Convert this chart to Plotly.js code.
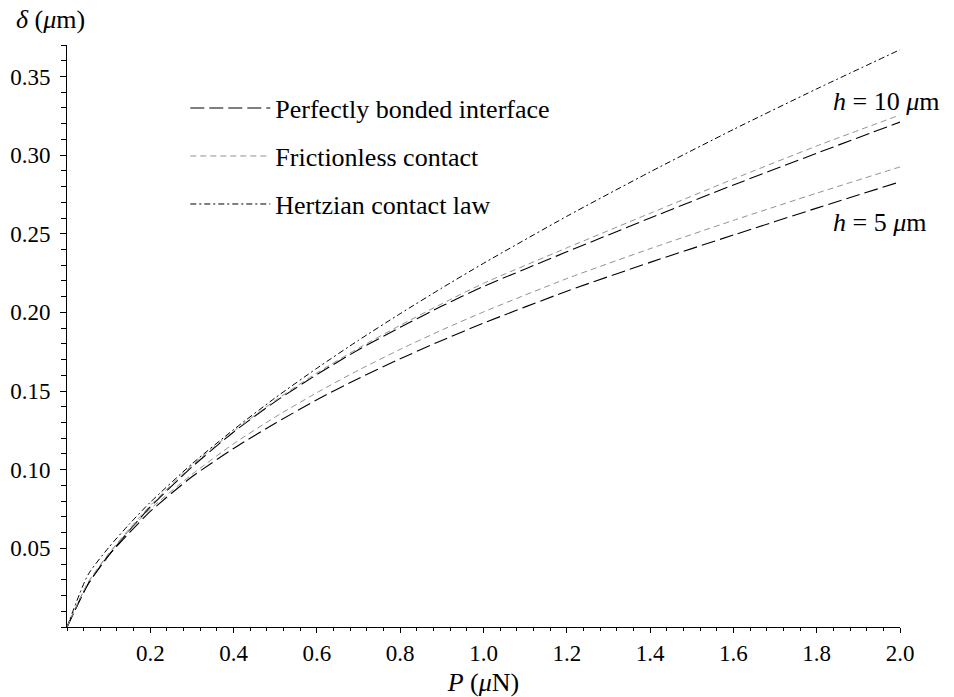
<!DOCTYPE html>
<html>
<head>
<meta charset="utf-8">
<script src="https://cdn.plot.ly/plotly-3.0.1.min.js"></script>
<style>html,body{margin:0;padding:0;background:#fff;}#chart{width:954px;height:697px;}</style>
</head>
<body>
<div id="chart"></div>
<script>
// Load P (μN)
const P = [0, 0.05, 0.1, 0.15, 0.2, 0.3, 0.4, 0.5, 0.6, 0.7, 0.8, 0.9, 1.0, 1.2, 1.4, 1.6, 1.8, 2.0];
// Indentation depth δ (μm)
const hertz  = [0, 0.033, 0.0505, 0.0655, 0.0793, 0.1037, 0.1255, 0.1457, 0.1645, 0.1823, 0.1992, 0.2155, 0.2312, 0.2611, 0.2893, 0.3163, 0.3421, 0.367];
const fric10 = [0, 0.028, 0.0465, 0.0625, 0.0773, 0.1027, 0.1245, 0.1440, 0.1615, 0.1773, 0.1918, 0.2055, 0.2185, 0.2410, 0.2630, 0.2848, 0.3058, 0.3255];
const bond10 = [0, 0.027, 0.0455, 0.0615, 0.0763, 0.1017, 0.1240, 0.1433, 0.1605, 0.1763, 0.1905, 0.2040, 0.2165, 0.2385, 0.2600, 0.2810, 0.3012, 0.321];
const fric5  = [0, 0.028, 0.0465, 0.0615, 0.0750, 0.0970, 0.1165, 0.1335, 0.1490, 0.1633, 0.1765, 0.1888, 0.2003, 0.2215, 0.2405, 0.2585, 0.2758, 0.2925];
const bond5  = [0, 0.027, 0.0455, 0.0600, 0.0735, 0.0955, 0.1135, 0.1295, 0.1445, 0.1580, 0.1705, 0.1822, 0.1932, 0.2135, 0.2318, 0.2492, 0.2663, 0.283];

const xTicks = [0.2, 0.4, 0.6, 0.8, 1.0, 1.2, 1.4, 1.6, 1.8, 2.0];
const yTicks = [0.05, 0.10, 0.15, 0.20, 0.25, 0.30, 0.35];
const seriesNames = ["Perfectly bonded interface", "Frictionless contact", "Hertzian contact law"];
const curveLabels = ["<i>h</i> = 10 <i>μ</i>m", "<i>h</i> = 5 <i>μ</i>m"];

const FONT = "Liberation Serif, Times New Roman, serif";
const bondStyle = {color: "#000", width: 1.1, dash: "14px,5px"};
const fricStyle = {color: "#929292", width: 1, dash: "6px,4px"};
const hertzStyle = {color: "#000", width: 1, dash: "6px,3px,2px,3px"};

const traces = [
  {x: P, y: bond10, name: seriesNames[0], legendgroup: "a", line: bondStyle},
  {x: P, y: fric10, name: seriesNames[1], legendgroup: "b", line: fricStyle},
  {x: P, y: hertz, name: seriesNames[2], legendgroup: "c", line: hertzStyle},
  {x: P, y: bond5, name: seriesNames[0], legendgroup: "a", showlegend: false, line: bondStyle},
  {x: P, y: fric5, name: seriesNames[1], legendgroup: "b", showlegend: false, line: fricStyle}
].map(t => Object.assign({type: "scatter", mode: "lines", hoverinfo: "skip"}, t,
  {line: Object.assign({shape: "spline", smoothing: 0.6}, t.line)}));

const layout = {
  width: 954, height: 697,
  margin: {l: 67, r: 54, t: 45, b: 70},
  paper_bgcolor: "#fff", plot_bgcolor: "#fff",
  font: {family: FONT, size: 23, color: "#000"},
  showlegend: true,
  legend: {
    x: 0.142, y: 0.932, xanchor: "left", yanchor: "top",
    bgcolor: "rgba(0,0,0,0)", borderwidth: 0,
    traceorder: "grouped", tracegroupgap: 11.2,
    itemwidth: 80,
    font: {family: FONT, size: 26, color: "#000"}
  },
  xaxis: {
    range: [0, 2.0], showgrid: false, zeroline: false,
    showline: true, linecolor: "#000", linewidth: 1,
    ticks: "outside", ticklen: 5, tickwidth: 1, tickcolor: "#000",
    tickvals: xTicks, ticktext: xTicks.map(v => v.toFixed(1)),
    minor: {dtick: 0.04, tick0: 0, ticks: "outside", ticklen: 3, tickwidth: 1, tickcolor: "#000"},
    tickfont: {family: FONT, size: 23},
    title: {text: "<i>P</i> (<i>μ</i>N)", font: {family: FONT, size: 26}, standoff: 8}
  },
  yaxis: {
    range: [0, 0.37], showgrid: false, zeroline: false,
    showline: true, linecolor: "#000", linewidth: 1,
    ticks: "outside", ticklen: 6, tickwidth: 1, tickcolor: "#000",
    ticklabelstandoff: 5,
    tickvals: yTicks, ticktext: yTicks.map(v => v.toFixed(2)),
    minor: {dtick: 0.01, tick0: 0, ticks: "outside", ticklen: 5, tickwidth: 1, tickcolor: "#000"},
    tickfont: {family: FONT, size: 23}
  },
  annotations: [
    {xref: "paper", yref: "paper", x: -0.064, y: 1.043, xanchor: "left", yanchor: "middle",
     text: "<i>δ</i> (<i>μ</i>m)", showarrow: false, font: {family: FONT, size: 26}},
    {xref: "x", yref: "y", x: 1.835, y: 0.334, xanchor: "left", yanchor: "middle",
     text: curveLabels[0], showarrow: false, font: {family: FONT, size: 26}},
    {xref: "x", yref: "y", x: 1.835, y: 0.257, xanchor: "left", yanchor: "middle",
     text: curveLabels[1], showarrow: false, font: {family: FONT, size: 26}}
  ]
};

Plotly.newPlot("chart", traces, layout, {displayModeBar: false, staticPlot: true});
</script>
</body>
</html>
